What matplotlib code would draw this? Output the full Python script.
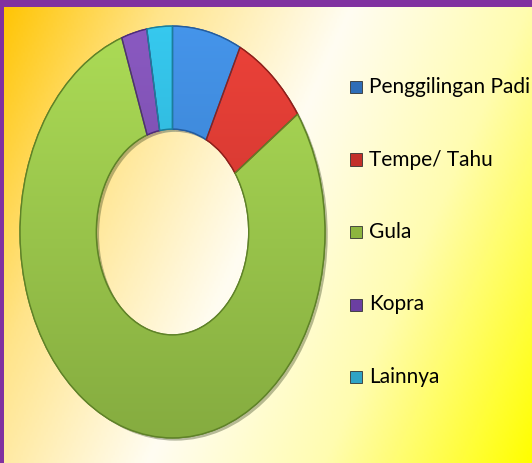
import numpy as np
import matplotlib
matplotlib.use('Agg')
import matplotlib.pyplot as plt
from matplotlib.colors import LinearSegmentedColormap, to_rgb
from matplotlib.patches import Rectangle
import matplotlib.patheffects as pe

labels = ["Penggilingan Padi", "Tempe/ Tahu", "Gula", "Kopra", "Lainnya"]
values = [7.3, 8.0, 79.3, 2.7, 2.7]
colors = ["#3A85D6", "#D8372F", "#9BC84A", "#7B4DAF", "#2CB6DA"]
edges = ["#245C9E", "#8E201B", "#5F8228", "#4E2C7A", "#1B7F9C"]
box_colors = ["#2E6DB8", "#C3302A", "#8DB53F", "#6B3FA2", "#2FA3C6"]

W, H = 532, 463
fig = plt.figure(figsize=(W / 100, H / 100), dpi=100)

# background gradient: orange top-left -> cream middle -> yellow bottom-right
bg = fig.add_axes([0, 0, 1, 1])
xx, yy = np.meshgrid(np.linspace(0, 1, 300), np.linspace(0, 1, 300))
t = 0.72 * xx + 0.28 * yy
cmap = LinearSegmentedColormap.from_list(
    "bgfill", [(0, "#FFC400"), (0.22, "#FFE48A"), (0.48, "#FFFDF2"),
               (0.72, "#FFFCB0"), (1, "#FFFF00")])
bg.imshow(t, cmap=cmap, extent=[0, 1, 0, 1], origin="upper", aspect="auto")
bg.set_xlim(0, 1)
bg.set_ylim(0, 1)
bg.axis("off")

# purple frame (top and left)
bg.add_patch(Rectangle((0, 1 - 7 / H), 1, 7 / H, color="#8131A0", lw=0))
bg.add_patch(Rectangle((0, 0), 4 / W, 1, color="#8131A0", lw=0))

# donut, stretched into an ellipse
ax = fig.add_axes([17 / W, 1 - 442 / H, 311 / W, 420 / H])
wedges, _ = ax.pie(values, colors=colors, startangle=90, counterclock=False,
                   wedgeprops=dict(width=0.5, linewidth=1.0))
gy = np.linspace(0, 1, 256).reshape(-1, 1)
for w, c, ec in zip(wedges, colors, edges):
    w.set_edgecolor(ec)
    w.set_path_effects([pe.SimplePatchShadow(offset=(2, -2), alpha=0.35),
                        pe.Normal()])
    # soft top-to-bottom shading inside each wedge
    base = np.array(to_rgb(c))
    top = np.clip(base * 1.06 + 0.03, 0, 1)
    bot = base * 0.86
    img = top + (bot - top) * gy[..., None]
    im = ax.imshow(img, extent=[-1, 1, -1, 1], origin="upper",
                   aspect="auto", zorder=w.get_zorder() + 0.1)
    im.set_clip_path(w)
for w in wedges:
    w2 = plt.matplotlib.patches.Wedge(w.center, w.r, w.theta1, w.theta2,
                                      width=w.width, facecolor="none",
                                      edgecolor=w.get_edgecolor(), lw=1.0,
                                      zorder=5)
    ax.add_patch(w2)
ax.set_aspect("auto")
ax.set_xlim(-1.02, 1.02)
ax.set_ylim(-1.02, 1.02)
ax.axis("off")

# legend
y0, step = 87, 72.5
for i, (lab, c) in enumerate(zip(labels, box_colors)):
    yc = y0 + i * step
    bg.add_patch(Rectangle((350 / W, 1 - (yc + 6) / H), 12 / W, 12 / H,
                           facecolor=c, edgecolor="#333333", lw=0.6))
    bg.text(369 / W, 1 - yc / H, lab, fontsize=15, family="Lato",
            va="center", ha="left", color="black")

fig.savefig("out.png", dpi=100)
